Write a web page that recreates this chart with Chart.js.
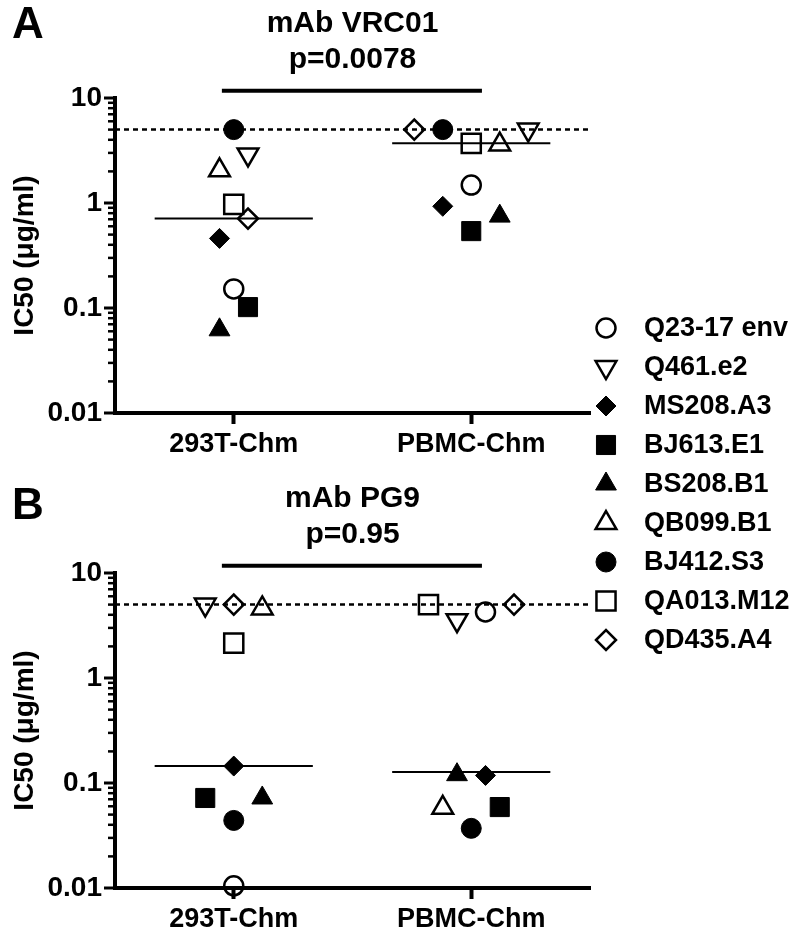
<!DOCTYPE html>
<html>
<head>
<meta charset="utf-8">
<script src="https://cdn.jsdelivr.net/npm/chart.js@4.4.1/dist/chart.umd.min.js"></script>
<style>
  body { margin: 0; background: #fff; }
  #wrap { position: relative; width: 800px; height: 943px; overflow: hidden; }
  #wrap canvas { position: absolute; left: 0; }
  .panel-letter { position: absolute; left: 12px; font: bold 44px "Liberation Sans", Arial, sans-serif; line-height: 1; }
</style>
</head>
<body>
<div id="wrap">
  <canvas id="chartA" width="800" height="700" style="top:0"></canvas>
  <canvas id="chartB" width="800" height="468" style="top:475px"></canvas>
  <div class="panel-letter" style="top:1px">A</div>
  <div class="panel-letter" style="top:482px">B</div>
</div>
<script>
const categories = ['293T-Chm', 'PBMC-Chm'];
const strains = ['Q23-17 env', 'Q461.e2', 'MS208.A3', 'BJ613.E1', 'BS208.B1', 'QB099.B1', 'BJ412.S3', 'QA013.M12', 'QD435.A4'];
const yTickLabels = ['0.01', '0.1', '1', '10'];

// IC50 (ug/ml), same order as strains
const vrc01_293T = [0.152, 2.9, 0.46, 0.102, 0.062, 2.05, 5, 0.97, 0.71];
const vrc01_PBMC = [1.48, 5, 0.93, 0.54, 0.75, 3.6, 5, 3.7, 5];
const pg9_293T = [0.0105, 5, 0.145, 0.072, 0.072, 4.6, 0.044, 2.15, 5];
const pg9_PBMC = [4.25, 3.55, 0.118, 0.059, 0.12, 0.058, 0.037, 5, 5];

// medians drawn as horizontal bars
const vrc01Medians = [0.71, 3.7];
const pg9Medians = [0.145, 0.127];

// horizontal spreading of the points (column slot inside a group)
const vrc01Slots293T = [0, 1, -1, 1, -1, -1, 0, 0, 1];
const vrc01SlotsPBMC = [0, 4, -2, 0, 2, 2, -2, 0, -4];
const pg9Slots293T = [0, -2, 0, -2, 2, 2, 0, 0, 0];
const pg9SlotsPBMC = [1, -1, 1, 2, -1, -2, 0, -3, 3];

const cutoff = 5; // highest concentration tested (dashed line)
const sigLevel = 11.7; // height of the p-value bar

const FONT = '"Liberation Sans", Arial, Helvetica, sans-serif';
const slotWidth = 0.06;

const markers = [
  { pointStyle: 'circle', rotation: 0, filled: false, radius: 9.5 },
  { pointStyle: 'triangle', rotation: 180, filled: false, radius: 12 },
  { pointStyle: 'rectRot', rotation: 0, filled: true, radius: 10 },
  { pointStyle: 'rect', rotation: 0, filled: true, radius: 13.5 },
  { pointStyle: 'triangle', rotation: 0, filled: true, radius: 12 },
  { pointStyle: 'triangle', rotation: 0, filled: false, radius: 12 },
  { pointStyle: 'circle', rotation: 0, filled: true, radius: 10 },
  { pointStyle: 'rect', rotation: 0, filled: false, radius: 13.5 },
  { pointStyle: 'rectRot', rotation: 0, filled: false, radius: 10 },
];

// log axis ticks: 1..9 of every decade
const yTicks = [];
for (let e = -2; e <= 0; e++) {
  for (let s = 1; s <= 9; s++) {
    yTicks.push(Number((s * Math.pow(10, e)).toPrecision(3)));
  }
}
yTicks.push(10);

const yMinorTicks = {
  id: 'yMinorTicks',
  afterDraw(chart) {
    const scale = chart.scales.y;
    const ctx = chart.ctx;
    const x0 = chart.chartArea.left;
    ctx.save();
    ctx.strokeStyle = '#000';
    yTicks.forEach(v => {
      const major = yTickLabels.includes(String(v));
      const y = scale.getPixelForValue(v);
      ctx.lineWidth = major ? 3 : 2.5;
      ctx.beginPath();
      ctx.moveTo(x0 - (major ? 11 : 7), y);
      ctx.lineTo(x0, y);
      ctx.stroke();
    });
    ctx.restore();
  }
};

const sideLegend = {
  id: 'sideLegend',
  afterDraw(chart, args, opts) {
    if (!opts.show) return;
    const ctx = chart.ctx;
    const x = chart.chartArea.right + 16;
    let y = opts.top;
    ctx.save();
    ctx.font = 'bold 27px ' + FONT;
    ctx.textBaseline = 'middle';
    strains.forEach((name, i) => {
      const m = markers[i];
      ctx.strokeStyle = '#000';
      ctx.fillStyle = m.filled ? '#000' : 'rgba(0,0,0,0)';
      ctx.lineWidth = m.filled ? 1 : 2.5;
      Chart.helpers.drawPoint(ctx, {
        pointStyle: m.pointStyle, rotation: m.rotation, radius: m.radius, borderWidth: ctx.lineWidth
      }, x, y);
      ctx.fillStyle = '#000';
      ctx.fillText(name, x + 38, y + 1);
      y += 39;
    });
    ctx.restore();
  }
};

function makePanel(canvasId, title, pText, vals293T, valsPBMC, slots293T, slotsPBMC, medians, showLegend) {
  const canvas = document.getElementById(canvasId);
  const datasets = strains.map((name, i) => {
    const m = markers[i];
    return {
      label: name,
      data: [
        { x: 0 + slots293T[i] * slotWidth, y: vals293T[i] },
        { x: 1 + slotsPBMC[i] * slotWidth, y: valsPBMC[i] },
      ],
      pointStyle: m.pointStyle,
      rotation: m.rotation,
      pointRadius: m.radius,
      pointHoverRadius: m.radius,
      backgroundColor: m.filled ? '#000' : 'rgba(0,0,0,0)',
      borderColor: '#000',
      borderWidth: m.filled ? 1 : 2.5,
      clip: false,
    };
  });

  medians.forEach((med, g) => {
    datasets.push({
      data: [{ x: g - 0.333, y: med }, { x: g + 0.333, y: med }],
      showLine: true, borderColor: '#000', borderWidth: 2, pointRadius: 0,
    });
  });

  datasets.push({
    data: [{ x: -0.5, y: cutoff }, { x: 1.5, y: cutoff }],
    showLine: true, borderColor: '#000', borderWidth: 2.5, borderDash: [5, 4], pointRadius: 0,
  });

  datasets.push({
    data: [{ x: -0.05, y: sigLevel }, { x: 1.045, y: sigLevel }],
    showLine: true, borderColor: '#000', borderWidth: 4, pointRadius: 0, clip: false,
  });

  return new Chart(canvas, {
    type: 'scatter',
    data: { datasets },
    options: {
      responsive: false,
      animation: false,
      events: [],
      layout: { padding: { left: 0, right: 210, top: 0, bottom: canvas.height - 413 - 50 } },
      plugins: {
        legend: { display: false },
        tooltip: { enabled: false },
        title: {
          display: true, text: title, color: '#000', fullSize: false,
          font: { family: FONT, size: 30, weight: 'bold', lineHeight: 1.2 },
          padding: { top: 6, bottom: 0 },
        },
        subtitle: {
          display: true, text: pText, color: '#000', fullSize: false,
          font: { family: FONT, size: 30, weight: 'bold', lineHeight: 1.2 },
          padding: { top: 0, bottom: 20 },
        },
        sideLegend: { show: showLegend, top: 328 },
      },
      scales: {
        x: {
          type: 'linear',
          min: -0.5,
          max: 1.5,
          afterBuildTicks: scale => { scale.ticks = categories.map((c, i) => ({ value: i })); },
          afterFit: scale => { scale.height = 50; },
          ticks: {
            callback: v => categories[v] ?? '',
            color: '#000',
            font: { family: FONT, size: 27, weight: 'bold' },
            padding: 4,
            maxRotation: 0,
            autoSkip: false,
          },
          grid: { drawOnChartArea: false, drawTicks: true, tickLength: 11, tickWidth: 4, tickColor: '#000' },
          border: { display: true, color: '#000', width: 4 },
        },
        y: {
          type: 'logarithmic',
          min: 0.01,
          max: 10,
          afterBuildTicks: scale => { scale.ticks = yTicks.map(v => ({ value: v, major: yTickLabels.includes(String(v)) })); },
          afterFit: scale => { scale.width = 115; },
          ticks: {
            callback: v => yTickLabels.find(l => Number(l) === v) || '',
            color: '#000',
            font: { family: FONT, size: 28, weight: 'bold' },
            padding: 13,
            autoSkip: false,
          },
          grid: { display: false, drawTicks: false },
          border: { display: true, color: '#000', width: 4 },
          title: {
            display: true,
            text: 'IC50 (\u03bcg/ml)',
            color: '#000',
            font: { family: FONT, size: 28, weight: 'bold', lineHeight: 1.2 },
            padding: { top: 8, bottom: 0 },
          },
        },
      },
    },
    plugins: [yMinorTicks, sideLegend],
  });
}

makePanel('chartA', 'mAb VRC01', 'p=0.0078', vrc01_293T, vrc01_PBMC, vrc01Slots293T, vrc01SlotsPBMC, vrc01Medians, true);
makePanel('chartB', 'mAb PG9', 'p=0.95', pg9_293T, pg9_PBMC, pg9Slots293T, pg9SlotsPBMC, pg9Medians, false);
</script>
</body>
</html>
